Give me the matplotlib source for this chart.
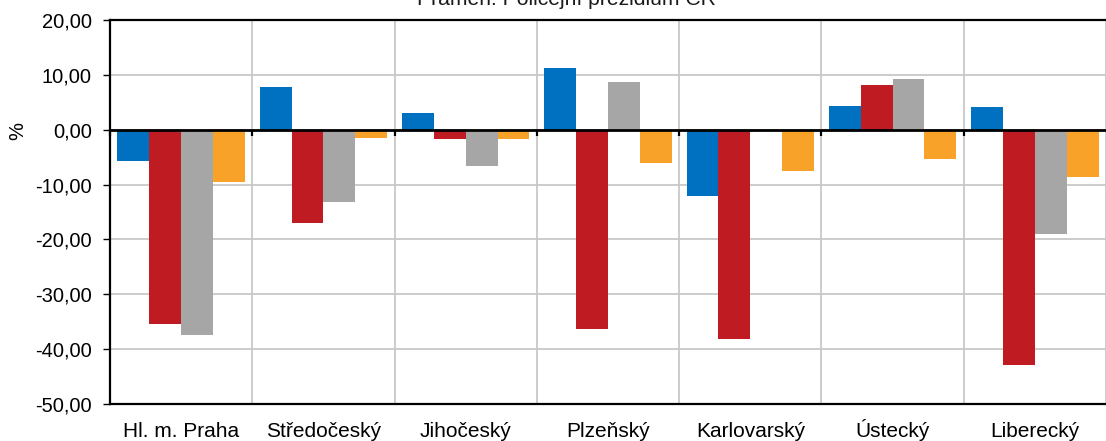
import numpy as np
import matplotlib
matplotlib.use("Agg")
import matplotlib.pyplot as plt
from matplotlib.ticker import FuncFormatter, FixedLocator
from matplotlib.lines import TICKDOWN

plt.rcParams['font.family'] = ['Liberation Sans', 'DejaVu Sans']

categories = ["Hl. m. Praha", "Středočeský", "Jihočeský", "Plzeňský",
              "Karlovarský", "Ústecký", "Liberecký"]
series_blue = [-5.7, 7.8, 3.0, 11.3, -12.0, 4.3, 4.2]
series_red = [-35.5, -17.0, -1.7, -36.3, -38.1, 8.2, -42.8]
series_grey = [-37.4, -13.1, -6.6, 8.7, np.nan, 9.2, -19.1]
series_orange = [-9.5, -1.5, -1.7, -6.0, -7.5, -5.4, -8.7]
yticks = [20, 10, 0, -10, -20, -30, -40, -50]
title = "Pramen: Policejní prezidium ČR"

colors = ["#0070C0", "#BE1B23", "#A6A6A6", "#F8A229"]
series = [series_blue, series_red, series_grey, series_orange]

fig = plt.figure(figsize=(11.06, 4.41), dpi=100)
ax = fig.add_axes([110/1106, 37/441, 996/1106, 384/441])

x = np.arange(len(categories))
w = 0.224
for i, (vals, c) in enumerate(zip(series, colors)):
    ax.bar(x + (i - 1.5) * w, vals, width=w, color=c, edgecolor='none', zorder=3)

ax.set_xlim(-0.5, len(categories) - 0.5)
ax.set_ylim(-50, 20)

ax.yaxis.set_major_locator(FixedLocator(yticks))
ax.yaxis.set_major_formatter(FuncFormatter(lambda v, p: f"{v:.2f}".replace('.', ',')))
ax.tick_params(axis='y', labelsize=14.5, direction='out', length=5, width=1, color='black', pad=8)

ax.set_xticks(x)
ax.set_xticklabels(categories, fontsize=15)
ax.tick_params(axis='x', length=0, pad=23.5)
for lab in ax.get_xticklabels():
    lab.set_verticalalignment('baseline')

bounds = np.arange(len(categories)) + 0.5
ax.set_xticks(bounds, minor=True)
ax.tick_params(axis='x', which='minor', length=0)
ax.grid(True, which='minor', axis='x', color='#C8C8C8', linewidth=1.3, zorder=0)
ax.grid(True, which='major', axis='y', color='#C8C8C8', linewidth=1.3, zorder=0)
ax.grid(False, which='major', axis='x')

for s in ['left', 'bottom', 'top']:
    ax.spines[s].set_color('black')
    ax.spines[s].set_linewidth(1.6)
ax.spines['right'].set_visible(False)

ax.axhline(0, color='black', linewidth=2, zorder=4)
ax.plot(np.concatenate([[-0.5], bounds[:-1]]), np.zeros(len(categories)), linestyle='none',
        marker=TICKDOWN, markersize=4, markeredgewidth=1.6, color='black', zorder=4, clip_on=False)

fig.text(18/1106, 1 - 131/441, "%", rotation=90, ha='center', va='center', fontsize=14.5)
fig.text(566/1106, 1 - 5/441, title, ha='center', va='baseline', fontsize=15.2, color='#1a1a1a')

fig.savefig("out.png", dpi=100)
